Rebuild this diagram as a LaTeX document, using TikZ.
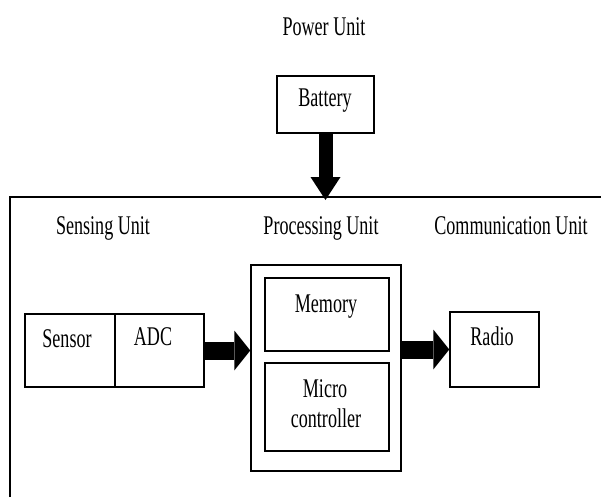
\documentclass[tikz,border=0pt]{standalone}
\usepackage{fontspec}
\setmainfont[FakeStretch=0.67]{Liberation Serif}
\usetikzlibrary{arrows.meta}
\begin{document}
\begin{tikzpicture}[x=1pt,y=-1pt,
  box/.style={draw,line width=1.5pt,rectangle,inner sep=0pt},
  lbl/.style={anchor=base,inner sep=0pt,font=\fontsize{27}{30}\selectfont},
  hblock/.style={line width=18pt,-{Triangle[length=16pt,width=40pt,line width=0pt]}},
  vblock/.style={line width=14pt,-{Triangle[length=23pt,width=30pt,line width=0pt]}}]
\useasboundingbox (0,0) rectangle (601,497);
% outer frame
\coordinate (fl) at (10,497);
\coordinate (ftop) at (10,197);
\coordinate (fr) at (601,197);
\coordinate (atip) at (10,200);
\draw[line width=1.5pt] (fl) -- (ftop) -- (fr);
% boxes
\node[box,minimum width=97pt,minimum height=57pt] (bat) at (325.5,104.5) {};
\node[box,minimum width=90pt,minimum height=73pt] (sen) at (70,350.5) {};
\node[box,minimum width=89pt,minimum height=73pt] (adc) at (159.5,350.5) {};
\node[box,minimum width=150pt,minimum height=206pt] (proc) at (326,368) {};
\node[box,minimum width=124pt,minimum height=73pt] (mem) at (327,314.5) {};
\node[box,minimum width=124pt,minimum height=88pt] (mic) at (327,407) {};
\node[box,minimum width=89pt,minimum height=75pt] (rad) at (494.5,349.5) {};
% texts
\node[lbl] (tpow) at (324,36) {Power Unit};
\node[lbl] (tbat) at (325,107) {Battery};
\node[lbl] (tsen) at (103,234) {Sensing Unit};
\node[lbl] (tproc) at (321,234) {Processing Unit};
\node[lbl] (tcom) at (511,234) {Communication Unit};
\node[lbl] (tsr) at (67,347) {Sensor};
\node[lbl] (tadc) at (153,345) {ADC};
\node[lbl] (tmem) at (326,312) {Memory};
\node[lbl] (tmic) at (325,397) {Micro};
\node[lbl] (tctl) at (326,427) {controller};
\node[lbl] (trad) at (492,345) {Radio};
% arrows
\draw[vblock] (bat.south) -- (bat.south |- atip);
\draw[hblock] (adc.east) -- (adc.east -| proc.west);
\draw[hblock] (proc.east |- rad.west) -- (rad.west);
\end{tikzpicture}
\end{document}
